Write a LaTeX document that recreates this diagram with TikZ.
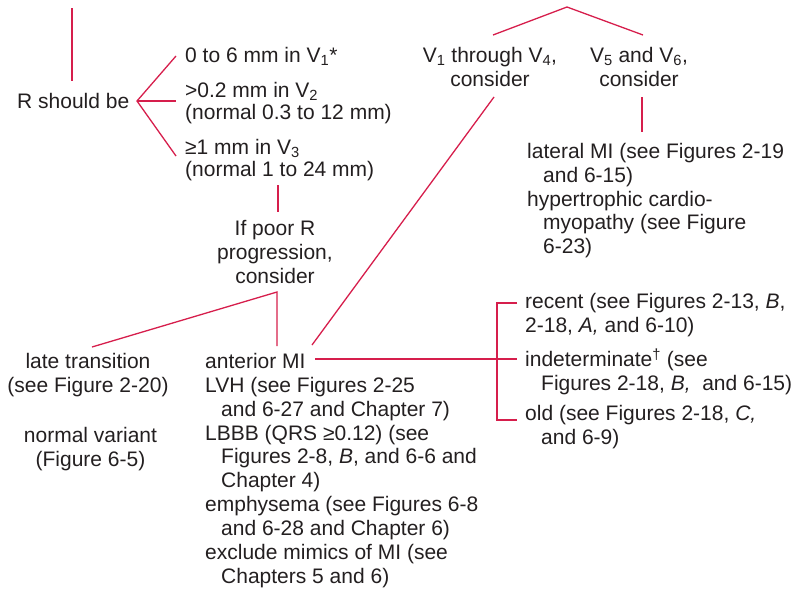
\documentclass[tikz,border=0pt]{standalone}
\usepackage{fontspec}
\setmainfont{Liberation Sans}
\definecolor{lc}{RGB}{214,30,76}
\definecolor{tc}{RGB}{35,31,32}
\begin{document}
\begin{tikzpicture}[x=1pt,y=-1pt,
  txt/.style={inner sep=0pt, anchor=north west, align=left, text=tc, font=\fontsize{21}{23.9}\selectfont},
  ctr/.style={txt, anchor=north, align=center},
  rtxt/.style={txt, font=\fontsize{21}{22}\selectfont},
  con/.style={draw=lc, line width=1.3pt}]
\useasboundingbox (0,0) rectangle (800,589);
\newcommand{\ind}{\hspace*{16pt}}

% left branch
\node[txt] (rsb) at (17,91.3) {\strut R should be};
\node[rtxt] (r1) at (185,46.6) {\strut 0 to 6 mm in V\textsubscript{1}*};
\node[rtxt] (r2) at (185,81.6) {\strut >0.2 mm in V\textsubscript{2}\\(normal 0.3 to 12 mm)};
\node[rtxt] (r3) at (185,138.6) {\strut ≥1 mm in V\textsubscript{3}\\(normal 1 to 24 mm)};
\node[ctr] (poor) at (275,218.3) {\strut If poor R\\progression,\\consider};
\node[ctr] (late) at (88,351.3) {\strut late transition\\(see Figure 2-20)};
\node[ctr] (normv) at (90.5,425.3) {\strut normal variant\\(Figure 6-5)};
\node[txt] (ant) at (205,351.3) {\strut anterior MI};
\node[txt] (causes) at (205,375.3) {\strut LVH (see Figures 2-25\\\ind and 6-27 and Chapter 7)\\LBBB (QRS ≥0.12) (see\\\ind Figures 2-8, \textit{B}, and 6-6 and\\\ind Chapter 4)\\emphysema (see Figures 6-8\\\ind and 6-28 and Chapter 6)\\exclude mimics of MI (see\\\ind Chapters 5 and 6)};

% right branch
\node[ctr] (v14) at (490,45.3) {\strut V\textsubscript{1} through V\textsubscript{4},\\consider};
\node[ctr] (v56) at (639,45.3) {\strut V\textsubscript{5} and V\textsubscript{6},\\consider};
\node[txt] (lat) at (527,141.3) {\strut lateral MI (see Figures 2-19\\\ind and 6-15)\\hypertrophic cardio-\\\ind myopathy (see Figure\\\ind 6-23)};
\node[txt] (rec) at (525,291.3) {\strut recent (see Figures 2-13, \textit{B},\\2-18, \textit{A,} and 6-10)};
\node[txt] (indt) at (525,348.3) {\strut indeterminate\textsuperscript{†} (see\\\ind Figures 2-18, \textit{B,}\ \ and 6-15)};
\node[txt] (old) at (525,403.3) {\strut old (see Figures 2-18, \textit{C,}\\\ind and 6-9)};

% connector end points
\coordinate (ttop) at (72,8);
\coordinate (rsbtop) at (72,81);
\coordinate (fork) at (137,101);
\coordinate (f1) at (176,56);
\coordinate (f2) at (176,101);
\coordinate (f3) at (176,156);
\coordinate (r3bot) at (278,185);
\coordinate (poortop) at (278,212);
\coordinate (poorbot) at (277,292);
\coordinate (latetop) at (92,347);
\coordinate (anttop) at (277,346);
\coordinate (antne) at (312,345);
\coordinate (v14bot) at (494,97);
\coordinate (antright) at (315,359);
\coordinate (brmid) at (517,359);
\coordinate (brtop) at (517,303);
\coordinate (brbot) at (517,420);
\coordinate (brx) at (497,359);
\coordinate (apex) at (567,7);
\coordinate (v14top) at (493,35);
\coordinate (v56top) at (643,35);
\coordinate (v56bot) at (642,97);
\coordinate (lattop) at (642,132);

\draw[con] (ttop) -- (rsbtop);
\draw[con] (f1) -- (fork) -- (f3);
\draw[con] (fork) -- (f2);
\draw[con] (r3bot) -- (poortop);
\draw[con] (latetop) -- (poorbot) -- (anttop);
\draw[con] (antne) -- (v14bot);
\draw[con] (antright) -- (brmid);
\draw[con] (brtop) -- (brtop -| brx) -- (brbot -| brx) -- (brbot);
\draw[con] (v14top) -- (apex) -- (v56top);
\draw[con] (v56bot) -- (lattop);
\end{tikzpicture}
\end{document}
